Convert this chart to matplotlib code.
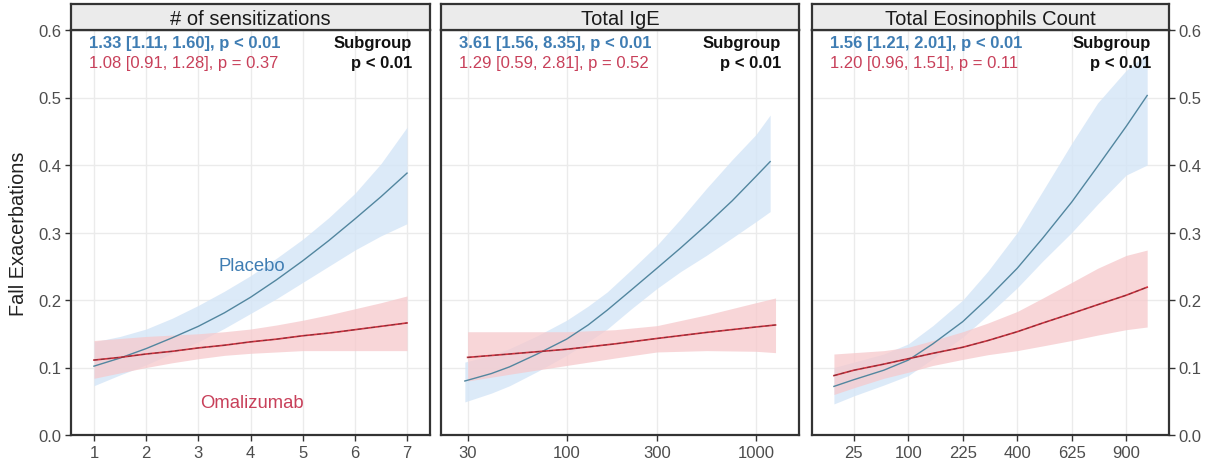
import numpy as np
import matplotlib
matplotlib.use("Agg")
import matplotlib.pyplot as plt
from matplotlib.scale import FuncScale

plt.rcParams['font.family'] = ['Liberation Sans', 'DejaVu Sans']

# ---------------- data ----------------
panel_titles = ["# of sensitizations", "Total IgE", "Total Eosinophils Count"]

# Panel 1: number of sensitizations
sens_x = [1, 1.5, 2, 2.5, 3, 3.5, 4, 4.5, 5, 5.5, 6, 6.5, 7]
sens_pla = [0.102, 0.114, 0.128, 0.144, 0.161, 0.181, 0.204, 0.230, 0.258, 0.288, 0.320, 0.353, 0.388]
sens_pla_lo = [0.073, 0.089, 0.104, 0.121, 0.138, 0.158, 0.180, 0.202, 0.226, 0.250, 0.274, 0.295, 0.313]
sens_pla_hi = [0.138, 0.146, 0.157, 0.173, 0.192, 0.213, 0.236, 0.262, 0.290, 0.322, 0.358, 0.402, 0.456]
sens_oma = [0.111, 0.115, 0.120, 0.124, 0.129, 0.133, 0.138, 0.142, 0.147, 0.151, 0.156, 0.161, 0.166]
sens_oma_lo = [0.084, 0.092, 0.100, 0.107, 0.113, 0.118, 0.121, 0.123, 0.125, 0.125, 0.125, 0.125, 0.125]
sens_oma_hi = [0.140, 0.143, 0.146, 0.148, 0.150, 0.153, 0.157, 0.163, 0.170, 0.178, 0.187, 0.196, 0.206]

# Panel 2: total IgE
ige_x = [29, 40, 50, 70, 100, 130, 164, 220, 300, 400, 547, 750, 1000, 1190]
ige_pla = [0.080, 0.091, 0.101, 0.120, 0.142, 0.163, 0.185, 0.215, 0.247, 0.277, 0.311, 0.347, 0.383, 0.405]
ige_pla_lo = [0.049, 0.062, 0.073, 0.094, 0.118, 0.138, 0.157, 0.187, 0.217, 0.242, 0.266, 0.292, 0.316, 0.331]
ige_pla_hi = [0.108, 0.118, 0.128, 0.147, 0.170, 0.191, 0.212, 0.245, 0.281, 0.320, 0.365, 0.408, 0.445, 0.474]
ige_oma_x = [30, 50, 100, 180, 300, 550, 1000, 1270]
ige_oma = [0.115, 0.120, 0.127, 0.135, 0.143, 0.152, 0.160, 0.163]
ige_oma_lo = [0.080, 0.090, 0.103, 0.114, 0.123, 0.125, 0.124, 0.122]
ige_oma_hi = [0.153, 0.153, 0.153, 0.156, 0.162, 0.178, 0.196, 0.203]

# Panel 3: total eosinophils count
eos_x = [10, 25, 60, 100, 150, 225, 300, 400, 500, 625, 750, 900, 1020]
eos_pla = [0.072, 0.082, 0.096, 0.111, 0.135, 0.168, 0.203, 0.247, 0.292, 0.345, 0.398, 0.457, 0.503]
eos_pla_lo = [0.046, 0.058, 0.074, 0.088, 0.113, 0.145, 0.178, 0.218, 0.258, 0.300, 0.342, 0.385, 0.400]
eos_pla_hi = [0.100, 0.108, 0.120, 0.135, 0.162, 0.200, 0.243, 0.300, 0.362, 0.432, 0.492, 0.540, 0.565]
eos_oma = [0.088, 0.096, 0.105, 0.113, 0.121, 0.130, 0.140, 0.153, 0.166, 0.180, 0.193, 0.207, 0.219]
eos_oma_lo = [0.060, 0.070, 0.084, 0.093, 0.103, 0.112, 0.119, 0.125, 0.132, 0.140, 0.148, 0.156, 0.160]
eos_oma_hi = [0.120, 0.122, 0.125, 0.130, 0.140, 0.153, 0.166, 0.183, 0.203, 0.226, 0.247, 0.266, 0.274]

pla_text = ["1.33 [1.11, 1.60], p < 0.01", "3.61 [1.56, 8.35], p < 0.01", "1.56 [1.21, 2.01], p < 0.01"]
oma_text = ["1.08 [0.91, 1.28], p = 0.37", "1.29 [0.59, 2.81], p = 0.52", "1.20 [0.96, 1.51], p = 0.11"]
subgroup_p = ["p < 0.01", "p < 0.01", "p < 0.01"]

sens_ticks = [1, 2, 3, 4, 5, 6, 7]
ige_ticks = [30, 100, 300, 1000]
eos_ticks = [25, 100, 225, 400, 625, 900]
y_ticks = [0.0, 0.1, 0.2, 0.3, 0.4, 0.5, 0.6]

# ---------------- style ----------------
BLUE_LINE = "#52869f"
BLUE_FILL = "#d4e5f7"
BLUE_TXT = "#3f7db3"
RED_LINE = "#d0323f"
RED_FILL = "#f6c9cc"
RED_TXT = "#c8405a"
GRID = "#ebebeb"
FRAME = "#333333"
TICKTXT = "#4d4d4d"

W, H = 1217, 464
fig = plt.figure(figsize=(W / 100, H / 100), dpi=100)

lefts = [71, 441, 812]
rights = [430, 799, 1169]
top_px, bot_px, strip_top = 31, 436, 5

def fx(px):
    return px / W

def fy(py):
    return 1 - py / H

sqrt_fwd = lambda v: np.sqrt(np.clip(v, 0, None))
sqrt_inv = lambda v: np.square(v)

panels = [
    dict(x=sens_x, p=sens_pla, plo=sens_pla_lo, phi=sens_pla_hi,
         ox=sens_x, o=sens_oma, olo=sens_oma_lo, ohi=sens_oma_hi,
         ticks=sens_ticks, labels=[str(t) for t in sens_ticks], xlim=(0.56, 7.44), scale="linear"),
    dict(x=ige_x, p=ige_pla, plo=ige_pla_lo, phi=ige_pla_hi,
         ox=ige_oma_x, o=ige_oma, olo=ige_oma_lo, ohi=ige_oma_hi,
         ticks=ige_ticks, labels=[str(t) for t in ige_ticks], xlim=(21.7, 1690), scale="log"),
    dict(x=eos_x, p=eos_pla, plo=eos_pla_lo, phi=eos_pla_hi,
         ox=eos_x, o=eos_oma, olo=eos_oma_lo, ohi=eos_oma_hi,
         ticks=eos_ticks, labels=[str(t) for t in eos_ticks], xlim=(1.32, 1152), scale="sqrt"),
]

FS_ANN = 12
for i, pn in enumerate(panels):
    l, r = lefts[i], rights[i]
    ax = fig.add_axes([fx(l), fy(bot_px), fx(r - l), (bot_px - top_px) / H])
    if pn["scale"] == "log":
        ax.set_xscale("log")
    elif pn["scale"] == "sqrt":
        ax.set_xscale(FuncScale(ax, (sqrt_fwd, sqrt_inv)))
    ax.set_xlim(*pn["xlim"])
    ax.set_ylim(0, 0.6)

    ax.fill_between(pn["x"], pn["plo"], pn["phi"], color=BLUE_FILL, alpha=0.8, lw=0, zorder=1)
    ax.fill_between(pn["ox"], pn["olo"], pn["ohi"], color=RED_FILL, alpha=0.75, lw=0, zorder=2)
    ax.plot(pn["x"], pn["p"], color=BLUE_LINE, lw=1.0, zorder=3)
    ax.plot(pn["ox"], pn["o"], color=RED_LINE, lw=1.2, zorder=4)
    ax.plot(pn["ox"], pn["o"], color="#5a3035", lw=0.7, ls=(0, (4, 3)), alpha=0.7, zorder=5)

    ax.set_xticks(pn["ticks"])
    ax.set_xticklabels(pn["labels"])
    ax.xaxis.set_minor_locator(matplotlib.ticker.NullLocator())
    ax.set_yticks(y_ticks)
    ax.set_yticklabels([f"{v:.1f}" for v in y_ticks])
    ax.grid(True, color=GRID, lw=1.0, zorder=0)
    ax.set_axisbelow(True)
    for s in ax.spines.values():
        s.set_color(FRAME)
        s.set_linewidth(1.6)
    ax.tick_params(axis="both", colors=FRAME, labelcolor=TICKTXT, labelsize=12, length=4, width=1, pad=3)
    if i == 0:
        ax.tick_params(axis="y", left=True, labelleft=True, right=False, labelright=False)
        ax.set_ylabel("Fall Exacerbations", fontsize=14.3, color="#222222", labelpad=7)
    elif i == 1:
        ax.tick_params(axis="y", left=False, labelleft=False)
    else:
        ax.tick_params(axis="y", left=False, labelleft=False, right=True, labelright=True)

    # annotations
    hpx = bot_px - top_px
    ax.text(18 / (r - l), 1 - 12 / hpx, pla_text[i], transform=ax.transAxes,
            color=BLUE_TXT, fontsize=FS_ANN, fontweight="bold", ha="left", va="center", zorder=6)
    ax.text(18 / (r - l), 1 - 32 / hpx, oma_text[i], transform=ax.transAxes,
            color=RED_TXT, fontsize=FS_ANN, ha="left", va="center", zorder=6)
    ax.text(1 - 18 / (r - l), 1 - 12 / hpx, "Subgroup", transform=ax.transAxes,
            color="#111111", fontsize=FS_ANN, fontweight="bold", ha="right", va="center", zorder=6)
    ax.text(1 - 18 / (r - l), 1 - 32 / hpx, subgroup_p[i], transform=ax.transAxes,
            color="#111111", fontsize=FS_ANN, fontweight="bold", ha="right", va="center", zorder=6)

    if i == 0:
        ax.text(4.02, 0.251, "Placebo", color=BLUE_TXT, fontsize=13.3, ha="center", va="center", zorder=6)
        ax.text(4.02, 0.048, "Omalizumab", color=RED_TXT, fontsize=13.3, ha="center", va="center", zorder=6)

    # strip header
    sax = fig.add_axes([fx(l), fy(top_px), fx(r - l), (top_px - strip_top) / H])
    sax.set_facecolor("#ebebeb")
    sax.set_xticks([])
    sax.set_yticks([])
    for s in sax.spines.values():
        s.set_color(FRAME)
        s.set_linewidth(1.6)
    sax.text(0.5, 0.45, panel_titles[i], transform=sax.transAxes, ha="center", va="center",
             fontsize=14.5, color="#1a1a1a")

fig.savefig("out.png", dpi=100)
